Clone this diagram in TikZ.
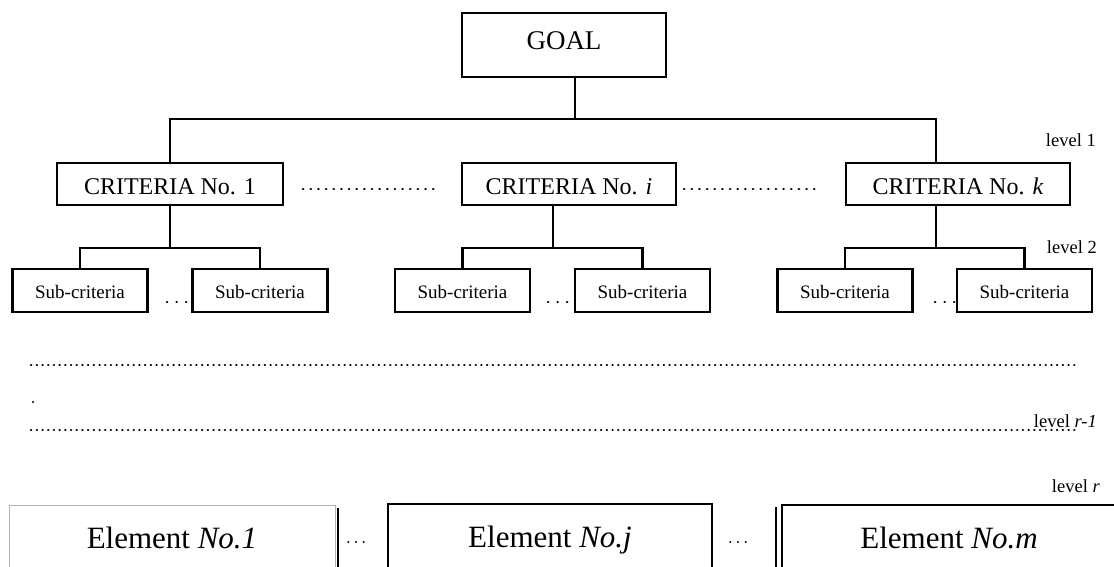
\documentclass[tikz,border=0pt]{standalone}
\usepackage{fontspec}
\setmainfont{Liberation Serif}
\usetikzlibrary{calc}
\begin{document}
\begin{tikzpicture}[x=1pt,y=-1pt,
  box/.style={draw, line width=2.2pt, inner sep=0pt, align=center},
  goalbox/.style={box, minimum width=204pt, minimum height=64pt,
    font=\fontsize{27}{30}\selectfont, text height=18pt, text depth=9.4pt},
  critbox/.style={box, minimum height=42pt,
    font=\fontsize{24}{28}\selectfont, text height=20pt, text depth=0pt},
  subbox/.style={box, minimum width=135pt, minimum height=43pt,
    font=\fontsize{19}{22}\selectfont, text height=15pt, text depth=0pt},
  elem/.style={inner sep=0pt, minimum height=64pt,
    font=\fontsize{31}{34}\selectfont, text height=22pt, text depth=0pt},
  conn/.style={line width=2.2pt},
  lvl/.style={anchor=base east, inner sep=0pt, font=\fontsize{18.5}{20}\selectfont},
  bigdots/.style={line width=2.6pt, line cap=round, dash pattern=on 0.3pt off 7.35pt},
  smalldots/.style={line width=2.4pt, line cap=round, dash pattern=on 0.3pt off 9.2pt},
  rowdots/.style={line width=2.3pt, line cap=round, dash pattern=on 0.3pt off 5.4pt},
  eldots/.style={line width=2pt, line cap=round, dash pattern=on 0.3pt off 7.5pt}
]
\path[use as bounding box] (0,0) rectangle (1114,567);
\clip (0,0) rectangle (1114,567);

% goal
\node[goalbox] (goal) at (564,45) {GOAL};

% criteria
\node[critbox, minimum width=226pt] (c1) at (170,184) {CRITERIA No. 1};
\node[critbox, minimum width=214pt] (ci) at (569,184) {CRITERIA No. \textit{i}};
\node[critbox, minimum width=224pt] (ck) at (958,184) {CRITERIA No. \textit{k}};

% sub-criteria
\node[subbox] (s1) at (80,290.5) {Sub-criteria};
\node[subbox] (s2) at (260,290.5) {Sub-criteria};
\node[subbox] (s3) at (462.5,290.5) {Sub-criteria};
\node[subbox] (s4) at (642.5,290.5) {Sub-criteria};
\node[subbox] (s5) at (845,290.5) {Sub-criteria};
\node[subbox] (s6) at (1024.5,290.5) {Sub-criteria};

% connectors level 1
\coordinate (busy) at (0,119);
\coordinate (gout) at ([xshift=11pt]goal.south);
\coordinate (ckin) at ([xshift=-22pt]ck.north);
\draw[conn] (gout) -- (gout |- busy);
\draw[conn] (c1.north) -- (c1.north |- busy) -- (ckin |- busy) -- (ckin);

% connectors level 2
\coordinate (sby) at (0,248);
\coordinate (ciout) at ([xshift=-16pt]ci.south);
\coordinate (ckout) at ([xshift=-22pt]ck.south);
\draw[conn] (c1.south) -- (c1.south |- sby);
\draw[conn] (s1.north) -- (s1.north |- sby) -- (s2.north |- sby) -- (s2.north);
\draw[conn] (ciout) -- (ciout |- sby);
\draw[conn] (s3.north) -- (s3.north |- sby) -- (s4.north |- sby) -- (s4.north);
\draw[conn] (ckout) -- (ckout |- sby);
\draw[conn] (s5.north) -- (s5.north |- sby) -- (s6.north |- sby) -- (s6.north);

% dots between criteria
\draw[bigdots] (303,189) -- (434,189);
\draw[bigdots] (684,189) -- (815,189);

% dots between sub-criteria
\draw[smalldots] (167,302) -- (186.5,302);
\draw[smalldots] (548,302) -- (567.5,302);
\draw[smalldots] (935,302) -- (954.5,302);

% long dotted rows
\draw[rowdots] (31,365) -- (1075,365);
\fill (33,402) circle (1.2pt);
\draw[rowdots] (31,430) -- (1075,430);

% level labels
\node[lvl] (l1) at (1096,147) {level 1};
\node[lvl] (l2) at (1097,253) {level 2};
\node[lvl] (lr1) at (1097,427) {level \textit{r-1}};
\node[lvl] (lr) at (1100,492) {level \textit{r}};

% elements
\node[elem, draw=gray!60, line width=1pt, minimum width=326pt] (e1) at (172,537) {Element \textit{No.1}};
\draw[line width=1.8pt] ([xshift=2.5pt,yshift=-3pt]e1.north east) -- ([xshift=2.5pt]e1.south east);
\node[elem, draw, line width=2.4pt, minimum width=324pt] (e2) at (550,536) {Element \textit{No.j}};
\node[elem, draw, line width=2.4pt, minimum width=334pt] (e3) at (949,537) {Element \textit{No.m}};
\draw[line width=1.4pt] ([xshift=-5pt,yshift=-3pt]e3.north west) -- ([xshift=-5pt]e3.south west);

\draw[eldots] (348,542) -- (366,542);
\draw[eldots] (730,542) -- (748,542);
\end{tikzpicture}
\end{document}
